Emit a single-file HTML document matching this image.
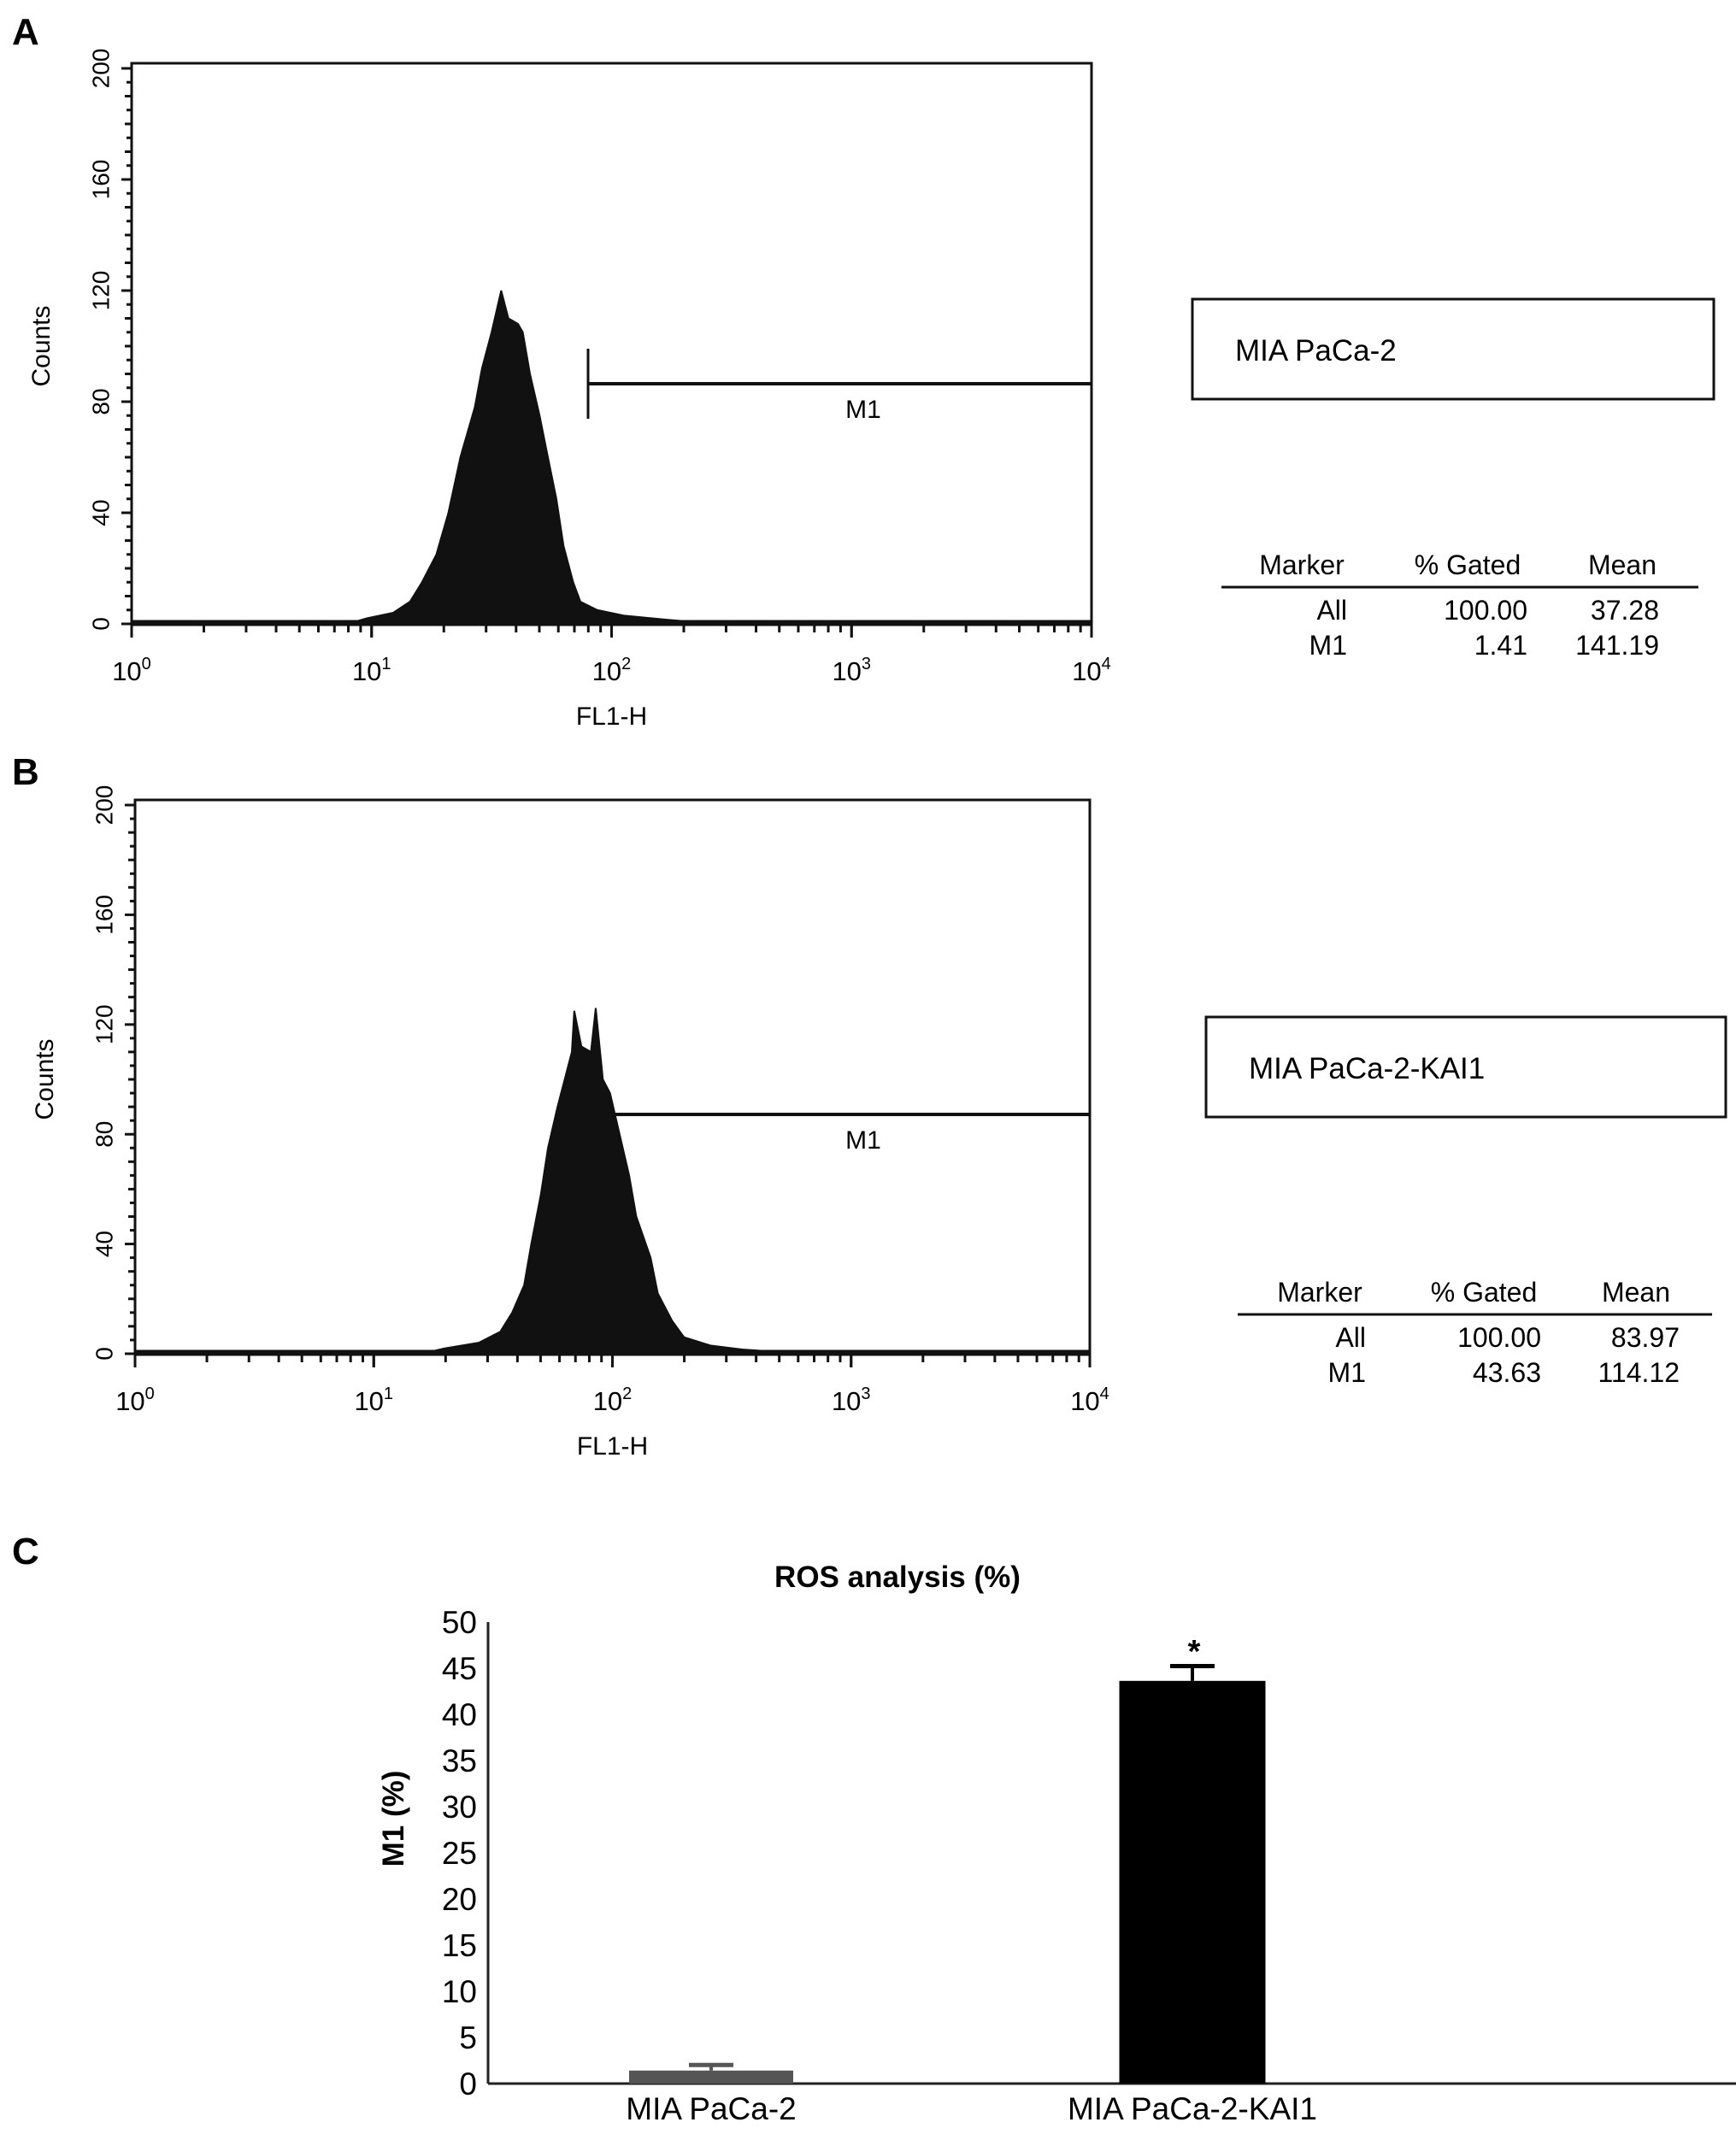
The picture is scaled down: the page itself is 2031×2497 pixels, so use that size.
<!DOCTYPE html>
<html><head><meta charset="utf-8"><style>
html,body{margin:0;padding:0;background:#fff;}
svg{display:block;font-family:"Liberation Sans",Arial,sans-serif;}
</style></head><body>
<svg id="fig" width="2031" height="2497" viewBox="0 0 2031 2497">
<text x="14" y="52" font-size="44" font-weight="bold">A</text>
<text x="14" y="918" font-size="44" font-weight="bold">B</text>
<text x="14" y="1830" font-size="44" font-weight="bold">C</text>
<g id="panelA"></g>
<g id="panelB"></g>
<g id="panelC"></g>
</svg>
<script>
// Panel A histogram data (log10 FL1-H, counts)
const histALog = [0.9,0.98,1.09,1.16,1.21,1.27,1.32,1.37,1.43,1.46,1.50,1.54,1.57,1.61,1.63,1.66,1.70,1.73,1.77,1.80,1.84,1.87,1.94,2.05,2.23,2.37,2.5];
const histACount = [0,2,4,8,15,25,40,60,78,92,105,120,110,108,105,90,75,62,45,28,15,8,5,3,1.5,0.5,0];
// Panel B histogram data
const histBLog = [1.2,1.30,1.44,1.53,1.58,1.63,1.66,1.70,1.73,1.77,1.80,1.83,1.84,1.87,1.91,1.93,1.96,1.99,2.03,2.07,2.10,2.16,2.19,2.25,2.30,2.41,2.55,2.73,2.85];
const histBCount = [0,2,4,8,15,25,40,58,75,90,100,110,125,112,110,126,100,95,80,65,50,35,22,12,6,3,1.5,0.5,0];
const yTickLabels = [0,40,80,120,160,200];
const xDecades = [0,1,2,3,4];
// Panel C bar data
const barCategories = ["MIA PaCa-2","MIA PaCa-2-KAI1"];
const barValues = [1.41,43.63];
const barErrors = [0.6,1.6];
const barTicks = [0,5,10,15,20,25,30,35,40,45,50];

const NS="http://www.w3.org/2000/svg";
function mk(parent,tag,attrs,text){const e=document.createElementNS(NS,tag);for(const k in attrs)e.setAttribute(k,attrs[k]);if(text!==undefined)e.textContent=text;parent.appendChild(e);return e;}

function drawHist(g,cfg,logs,counts,stats){
  const X=v=>cfg.left+(v/4)*(cfg.right-cfg.left);
  const Y=v=>cfg.zero-v*(cfg.zero-cfg.y200)/200;
  let d="M"+X(logs[0])+","+Y(0);
  for(let i=0;i<logs.length;i++){d+=" L"+X(logs[i])+","+Y(counts[i]);}
  d+=" L"+X(logs[logs.length-1])+","+Y(0)+" Z";
  const p=mk(g,"path",{d:d,fill:"#111",stroke:"#111","stroke-width":2});
  
  
  const fr=mk(g,"rect",{x:cfg.left,y:cfg.top,width:cfg.right-cfg.left,height:cfg.zero-cfg.top,fill:"none",stroke:"#111","stroke-width":3});
  
  
  mk(g,"line",{x1:cfg.left,y1:cfg.zero-1,x2:cfg.right,y2:cfg.zero-1,stroke:"#111","stroke-width":7});
  for(let v=0;v<=200;v+=5){const y=Y(v);const len=(v%40===0)?12:(v%10===0?8:6);
    mk(g,"line",{x1:cfg.left-len,y1:y,x2:cfg.left,y2:y,stroke:"#111","stroke-width":3});}
  yTickLabels.forEach(v=>{const t=mk(g,"text",{x:0,y:0,"font-size":28,"text-anchor":"middle",transform:`translate(${cfg.left-34},${Y(v)}) rotate(-90)`,"dominant-baseline":"middle"},String(v));
    
    });
  for(let dcd=0;dcd<4;dcd++){for(let m=1;m<=10;m++){const x=X(dcd+Math.log10(m));const len=(m===1||m===10)?16:10;
    mk(g,"line",{x1:x,y1:cfg.zero,x2:x,y2:cfg.zero+len,stroke:"#111","stroke-width":3});}}
  xDecades.forEach(dc=>{const t=mk(g,"text",{x:X(dc),y:cfg.zero+66,"font-size":31,"text-anchor":"middle"});
    mk(t,"tspan",{},"10");mk(t,"tspan",{dy:-13,"font-size":20},String(dc));
    
    });
  const xt=mk(g,"text",{x:(cfg.left+cfg.right)/2,y:cfg.zero+118,"font-size":30,"text-anchor":"middle"},"FL1-H");
  
  
  const yt=mk(g,"text",{x:0,y:0,"font-size":30,"text-anchor":"middle",transform:`translate(${cfg.left-104},${Y(100)}) rotate(-90)`,"dominant-baseline":"middle"},"Counts");
  
  
  const mg=mk(g,"g",{});
  
  
  mk(mg,"line",{x1:cfg.mx,y1:cfg.my-cfg.mh,x2:cfg.mx,y2:cfg.my+cfg.mh,stroke:"#111","stroke-width":3});
  mk(mg,"line",{x1:cfg.mx,y1:cfg.my,x2:cfg.right,y2:cfg.my,stroke:"#111","stroke-width":4});
  mk(mg,"line",{x1:cfg.right,y1:cfg.my-cfg.mh,x2:cfg.right,y2:cfg.my+cfg.mh,stroke:"#111","stroke-width":3});
  mk(mg,"text",{x:1010,y:cfg.my+40,"font-size":30,"text-anchor":"middle"},"M1");
  const b=mk(g,"rect",{x:cfg.bx,y:cfg.by,width:cfg.bw,height:117,fill:"#fff",stroke:"#111","stroke-width":3});
  
  
  mk(g,"text",{x:cfg.bx+50,y:cfg.by+72,"font-size":35},stats.name);
  const tg=mk(g,"g",{"font-size":32});
  
  
  mk(tg,"text",{x:cfg.c1,y:cfg.ty,"text-anchor":"middle"},"Marker");
  mk(tg,"text",{x:cfg.c2,y:cfg.ty,"text-anchor":"middle"},"% Gated");
  mk(tg,"text",{x:cfg.c3,y:cfg.ty,"text-anchor":"middle"},"Mean");
  mk(tg,"line",{x1:cfg.l1,y1:cfg.ty+15,x2:cfg.l2,y2:cfg.ty+15,stroke:"#111","stroke-width":3});
  stats.rows.forEach((r,i)=>{const y=cfg.ty+53+i*41;
    mk(tg,"text",{x:cfg.r1,y:y,"text-anchor":"end"},r[0]);
    mk(tg,"text",{x:cfg.r2,y:y,"text-anchor":"end"},r[1]);
    mk(tg,"text",{x:cfg.r3,y:y,"text-anchor":"end"},r[2]);});
}

drawHist(document.getElementById("panelA"),
 {left:154,right:1277,top:74,zero:730,y200:80,mx:688,my:449,mh:41,bx:1395,by:350,bw:610,ty:672,c1:1523,c2:1717,c3:1898,l1:1429,l2:1987,r1:1576,r2:1787,r3:1941},
 histALog,histACount,{name:"MIA PaCa-2",rows:[["All","100.00","37.28"],["M1","1.41","141.19"]]});
drawHist(document.getElementById("panelB"),
 {left:158,right:1275,top:936,zero:1584,y200:942,mx:693,my:1304,mh:40,bx:1411,by:1190,bw:608,ty:1523,c1:1544,c2:1736,c3:1914,l1:1448,l2:2003,r1:1598,r2:1803,r3:1965},
 histBLog,histBCount,{name:"MIA PaCa-2-KAI1",rows:[["All","100.00","83.97"],["M1","43.63","114.12"]]});

(function(){
  const g=document.getElementById("panelC");
  const x0=571,x1=2031,yZero=2438,yTop=1898;
  const Y=v=>yZero-v*(yZero-yTop)/50;
  const centers=[832,1395], widths=[192,171], fills=["#555","#000"];
  const title=mk(g,"text",{x:1050,y:1857,"font-size":35,"font-weight":"bold","text-anchor":"middle"},"ROS analysis (%)");
  
  
  mk(g,"line",{x1:x0,y1:yTop,x2:x0,y2:yZero,stroke:"#222","stroke-width":3});
  mk(g,"line",{x1:x0,y1:yZero,x2:x1,y2:yZero,stroke:"#222","stroke-width":3});
  barTicks.forEach(v=>{const t=mk(g,"text",{x:558,y:Y(v)+13,"font-size":37,"text-anchor":"end"},String(v));
    
    });
  const yt=mk(g,"text",{x:0,y:0,"font-size":35,"font-weight":"bold","text-anchor":"middle",transform:"translate(472,2128) rotate(-90)"},"M1 (%)");
  
  
  barValues.forEach((v,i)=>{
    const c=centers[i],w=widths[i];
    const r=mk(g,"rect",{x:c-w/2,y:Y(v),width:w,height:yZero-Y(v),fill:fills[i]});
    
    
    const top=Y(v+barErrors[i]);
    mk(g,"line",{x1:c,y1:Y(v),x2:c,y2:top,stroke:fills[i],"stroke-width":4});
    mk(g,"line",{x1:c-26,y1:top,x2:c+26,y2:top,stroke:fills[i],"stroke-width":5});
    const l=mk(g,"text",{x:c,y:2480,"font-size":37,"text-anchor":"middle"},barCategories[i]);
    
    
  });
  const s=mk(g,"text",{x:centers[1]+2,y:1945,"font-size":38,"font-weight":"bold","text-anchor":"middle"},"*");
  
  
})();
</script>
</body></html>
